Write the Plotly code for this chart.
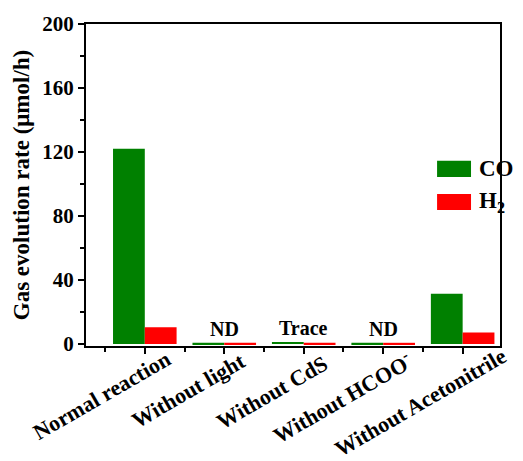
import plotly.graph_objects as go

categories = ["Normal reaction", "Without light", "Without CdS",
              "Without HCOO<sup>-</sup>", "Without Acetonitrile"]
co_values = [122, 0.8, 1.3, 0.8, 31.5]
h2_values = [10.5, 0.8, 0.8, 0.8, 7.3]
notes = ["", "ND", "Trace", "ND", ""]
y_ticks = [0, 40, 80, 120, 160, 200]
series_names = ["CO", "H<sub>2</sub>"]
series_colors = ["#008000", "#ff0000"]

FONT = "Liberation Serif"
x = list(range(len(categories)))

# style: centre of each rotated category label (x offset in category units, y in paper units)
label_dx = [-0.54, -0.45, -0.40, -0.52, -0.53]
label_y = [-0.155, -0.137, -0.143, -0.158, -0.177]

fig = go.Figure()
for vals, name, col in zip([co_values, h2_values], series_names, series_colors):
    fig.add_trace(go.Bar(x=x, y=vals, name=name, marker_color=col,
                         marker_line_width=0, showlegend=False))

for i, n in enumerate(notes):
    if n:
        fig.add_annotation(x=i, y=max(co_values[i], h2_values[i]), text="<b>" + n + "</b>",
                           showarrow=False, yanchor="bottom", yshift=1,
                           font=dict(family=FONT, size=20, color="black"))

for i, c in enumerate(categories):
    fig.add_annotation(x=i + label_dx[i], y=label_y[i], xref="x", yref="paper",
                       text="<b>" + c + "</b>", textangle=-30, showarrow=False,
                       xanchor="center", yanchor="middle",
                       font=dict(family=FONT, size=22, color="black"))

# legend drawn manually (large swatches like the reference)
leg_y = [0.55, 0.447]
for yy, name, col in zip(leg_y, series_names, series_colors):
    fig.add_shape(type="rect", xref="paper", yref="paper",
                  x0=0.848, x1=0.930, y0=yy - 0.025, y1=yy + 0.025,
                  fillcolor=col, line_width=0)
    fig.add_annotation(x=0.945, y=yy, xref="paper", yref="paper", text="<b>" + name + "</b>",
                       showarrow=False, xanchor="left", yanchor="middle",
                       font=dict(family=FONT, size=23, color="black"))

# page body has an 8px margin, so the figure is sized/offset to compensate
fig.update_layout(
    width=515, height=453,
    margin=dict(l=78, r=23, t=16, b=115),
    plot_bgcolor="white", paper_bgcolor="white",
    barmode="group", bargap=0.2, bargroupgap=0,
    font=dict(family=FONT, color="black", size=16),
    showlegend=False,
)
fig.update_xaxes(
    range=[-0.74, 4.47], automargin=False,
    tickmode="array", tickvals=x, showticklabels=False,
    showline=True, linecolor="black", linewidth=2, mirror=True,
    ticks="outside", ticklen=6, tickwidth=2, tickcolor="black",
    minor=dict(tickvals=[i + 0.5 for i in range(-1, 5)], ticks="outside", ticklen=4,
               tickwidth=2, tickcolor="black"),
    showgrid=False, zeroline=False,
)
fig.update_yaxes(
    range=[-1.2, 200], automargin=False,
    tickmode="array", tickvals=y_ticks, ticktext=["<b>%d</b>" % v for v in y_ticks],
    tickfont=dict(family=FONT, size=21, color="black"),
    title=dict(text="<b>Gas evolution rate (μmol/h)</b>",
               font=dict(family=FONT, size=23, color="black"), standoff=6),
    showline=True, linecolor="black", linewidth=2, mirror=True,
    ticks="outside", ticklen=6, tickwidth=2, tickcolor="black",
    minor=dict(tickvals=[20, 60, 100, 140, 180], ticks="outside", ticklen=4,
               tickwidth=2, tickcolor="black"),
    showgrid=False, zeroline=False,
)

fig.write_html("out.html")
